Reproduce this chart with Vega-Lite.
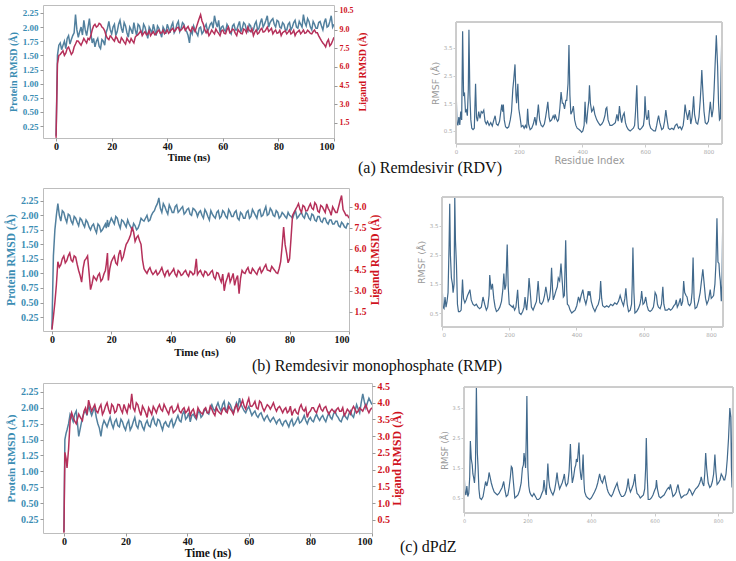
{
"$schema":"https://vega.github.io/schema/vega-lite/v6.json",
"padding":{"left":5,"top":4,"right":0,"bottom":0},
"background":"white",
"config":{"view":{"stroke":"#bdbdbd","strokeWidth":1},"axis":{"grid":false}},
"datasets":{
"A":[{"t":0,"p":0.08,"l":0.3},{"t":0.5,"p":1.5,"l":6.25},{"t":1,"p":1.68,"l":6.93},{"t":2,"p":1.6,"l":7.16},{"t":3,"p":1.75,"l":6.93},{"t":4,"p":1.8,"l":7.48},{"t":5,"p":1.7,"l":7.3},{"t":6,"p":1.85,"l":7.16},{"t":7,"p":2.22,"l":7.84},{"t":8,"p":1.82,"l":8.07},{"t":9,"p":2.0,"l":7.75},{"t":10,"p":2.12,"l":8.29},{"t":11,"p":1.85,"l":7.93},{"t":12,"p":2.15,"l":8.2},{"t":13,"p":1.72,"l":8.97},{"t":14,"p":1.65,"l":9.43},{"t":15,"p":1.8,"l":9.29},{"t":16,"p":1.62,"l":9.43},{"t":17,"p":1.75,"l":9.11},{"t":18,"p":1.9,"l":8.52},{"t":19,"p":2.1,"l":8.2},{"t":20,"p":1.88,"l":8.38},{"t":21,"p":2.05,"l":8.07},{"t":22,"p":1.92,"l":8.29},{"t":23,"p":2.12,"l":7.93},{"t":24,"p":1.9,"l":8.2},{"t":25,"p":2.02,"l":7.84},{"t":26,"p":1.82,"l":8.11},{"t":27,"p":1.95,"l":8.29},{"t":28,"p":2.08,"l":7.93},{"t":29,"p":1.85,"l":8.52},{"t":30,"p":2.02,"l":8.75},{"t":31,"p":1.88,"l":8.52},{"t":32,"p":2.0,"l":8.84},{"t":33,"p":1.8,"l":8.66},{"t":34,"p":1.95,"l":8.52},{"t":35,"p":2.05,"l":8.84},{"t":36,"p":1.85,"l":8.66},{"t":37,"p":1.98,"l":8.97},{"t":38,"p":1.82,"l":8.75},{"t":39,"p":1.95,"l":8.66},{"t":40,"p":2.05,"l":8.97},{"t":41,"p":1.9,"l":8.84},{"t":42,"p":2.08,"l":9.11},{"t":43,"p":1.95,"l":8.97},{"t":44,"p":2.1,"l":9.2},{"t":45,"p":1.98,"l":8.97},{"t":46,"p":2.05,"l":9.29},{"t":47,"p":1.92,"l":9.11},{"t":48,"p":1.72,"l":8.97},{"t":49,"p":1.88,"l":9.2},{"t":50,"p":1.95,"l":8.84},{"t":51,"p":1.85,"l":9.56},{"t":52,"p":2.0,"l":10.2},{"t":53,"p":1.92,"l":9.43},{"t":54,"p":2.05,"l":8.75},{"t":55,"p":1.98,"l":8.52},{"t":56,"p":2.08,"l":8.97},{"t":57,"p":2.2,"l":8.66},{"t":58,"p":2.0,"l":8.84},{"t":59,"p":1.9,"l":8.52},{"t":60,"p":2.02,"l":8.97},{"t":61,"p":1.92,"l":8.66},{"t":62,"p":2.0,"l":9.2},{"t":63,"p":1.88,"l":8.84},{"t":64,"p":2.05,"l":8.97},{"t":65,"p":1.95,"l":8.52},{"t":66,"p":2.1,"l":8.84},{"t":67,"p":1.98,"l":8.66},{"t":68,"p":2.05,"l":8.97},{"t":69,"p":1.92,"l":9.2},{"t":70,"p":2.02,"l":8.84},{"t":71,"p":1.95,"l":8.52},{"t":72,"p":2.1,"l":8.97},{"t":73,"p":1.98,"l":8.75},{"t":74,"p":2.15,"l":9.11},{"t":75,"p":2.05,"l":8.84},{"t":76,"p":2.2,"l":9.2},{"t":77,"p":2.08,"l":8.97},{"t":78,"p":2.15,"l":8.66},{"t":79,"p":2.0,"l":8.97},{"t":80,"p":2.1,"l":8.75},{"t":81,"p":1.98,"l":8.52},{"t":82,"p":2.05,"l":8.84},{"t":83,"p":1.95,"l":8.66},{"t":84,"p":2.08,"l":8.97},{"t":85,"p":2.0,"l":8.75},{"t":86,"p":2.12,"l":8.52},{"t":87,"p":1.98,"l":8.84},{"t":88,"p":2.05,"l":8.66},{"t":89,"p":2.22,"l":8.97},{"t":90,"p":2.02,"l":8.75},{"t":91,"p":2.1,"l":8.84},{"t":92,"p":1.95,"l":8.66},{"t":93,"p":2.05,"l":8.97},{"t":94,"p":1.98,"l":8.75},{"t":95,"p":2.1,"l":8.29},{"t":96,"p":1.95,"l":7.93},{"t":97,"p":2.15,"l":7.61},{"t":98,"p":2.02,"l":8.2},{"t":99,"p":2.2,"l":7.84},{"t":100,"p":2.05,"l":8.38},
{"t":1.5,"p":1.72,"l":7.0},{"t":2.5,"p":1.68,"l":7.3},{"t":3.5,"p":1.62,"l":7.1},{"t":4.5,"p":1.85,"l":7.6},{"t":5.5,"p":1.78,"l":7.0},{"t":6.5,"p":1.9,"l":7.6},{"t":7.5,"p":1.95,"l":8.1},{"t":8.5,"p":1.92,"l":7.9},{"t":9.5,"p":1.86,"l":8.0},{"t":10.5,"p":1.95,"l":8.1},{"t":11.5,"p":2.0,"l":8.3},{"t":12.5,"p":1.9,"l":8.5},{"t":13.5,"p":1.8,"l":9.3},{"t":14.5,"p":1.75,"l":9.2},{"t":15.5,"p":1.66,"l":9.5},{"t":16.5,"p":1.78,"l":9.2},{"t":17.5,"p":1.68,"l":8.9},{"t":18.5,"p":1.98,"l":8.3},{"t":19.5,"p":1.95,"l":8.5},{"t":20.5,"p":2.0,"l":8.2},{"t":21.5,"p":1.85,"l":8.45},{"t":22.5,"p":2.05,"l":8.0},{"t":23.5,"p":1.98,"l":8.35},{"t":24.5,"p":2.08,"l":8.0},{"t":25.5,"p":1.9,"l":8.3},{"t":26.5,"p":2.0,"l":7.95},{"t":27.5,"p":1.88,"l":8.1},{"t":28.5,"p":1.95,"l":8.4},{"t":29.5,"p":2.05,"l":8.6},{"t":30.5,"p":1.92,"l":8.9},{"t":31.5,"p":2.05,"l":8.7},{"t":32.5,"p":1.9,"l":8.6},{"t":33.5,"p":2.0,"l":8.9},{"t":34.5,"p":1.88,"l":8.7},{"t":35.5,"p":1.95,"l":8.6},{"t":36.5,"p":2.02,"l":8.85},{"t":37.5,"p":1.9,"l":8.7},{"t":38.5,"p":2.0,"l":8.95},{"t":39.5,"p":1.88,"l":8.8},{"t":40.5,"p":1.98,"l":8.7},{"t":41.5,"p":2.02,"l":9.0},{"t":42.5,"p":1.9,"l":8.85},{"t":43.5,"p":2.05,"l":9.15},{"t":44.5,"p":1.92,"l":8.9},{"t":45.5,"p":2.08,"l":9.1},{"t":46.5,"p":1.95,"l":8.95},{"t":47.5,"p":1.85,"l":9.25},{"t":48.5,"p":1.95,"l":8.85},{"t":49.5,"p":2.02,"l":9.05},{"t":50.5,"p":1.9,"l":9.2},{"t":51.5,"p":1.98,"l":9.9},{"t":52.5,"p":1.88,"l":9.7},{"t":53.5,"p":2.0,"l":9.0},{"t":54.5,"p":1.92,"l":8.95},{"t":55.5,"p":2.05,"l":8.7},{"t":56.5,"p":1.98,"l":8.8},{"t":57.5,"p":2.08,"l":9.05},{"t":58.5,"p":2.12,"l":8.7},{"t":59.5,"p":2.0,"l":8.9},{"t":60.5,"p":1.95,"l":8.7},{"t":61.5,"p":2.05,"l":9.0},{"t":62.5,"p":1.92,"l":8.75},{"t":63.5,"p":2.02,"l":9.05},{"t":64.5,"p":1.95,"l":8.7},{"t":65.5,"p":2.03,"l":9.0},{"t":66.5,"p":1.92,"l":8.7},{"t":67.5,"p":2.08,"l":9.05},{"t":68.5,"p":1.95,"l":8.75},{"t":69.5,"p":2.05,"l":8.95},{"t":70.5,"p":1.92,"l":9.05},{"t":71.5,"p":2.05,"l":8.8},{"t":72.5,"p":1.95,"l":8.65},{"t":73.5,"p":2.08,"l":9.0},{"t":74.5,"p":2.0,"l":8.8},{"t":75.5,"p":2.12,"l":9.0},{"t":76.5,"p":2.0,"l":8.85},{"t":77.5,"p":2.12,"l":9.1},{"t":78.5,"p":2.05,"l":8.85},{"t":79.5,"p":2.12,"l":8.7},{"t":80.5,"p":2.0,"l":8.95},{"t":81.5,"p":2.08,"l":8.75},{"t":82.5,"p":1.95,"l":8.9},{"t":83.5,"p":2.05,"l":8.8},{"t":84.5,"p":1.95,"l":8.65},{"t":85.5,"p":2.08,"l":8.95},{"t":86.5,"p":2.0,"l":8.75},{"t":87.5,"p":2.1,"l":8.95},{"t":88.5,"p":2.0,"l":8.8},{"t":89.5,"p":2.08,"l":8.7},{"t":90.5,"p":2.15,"l":8.95},{"t":91.5,"p":2.0,"l":8.7},{"t":92.5,"p":2.1,"l":8.85},{"t":93.5,"p":1.98,"l":8.75},{"t":94.5,"p":2.08,"l":8.5},{"t":95.5,"p":2.02,"l":8.1},{"t":96.5,"p":2.08,"l":7.8},{"t":97.5,"p":2.0,"l":8.0},{"t":98.5,"p":2.1,"l":7.7},{"t":99.5,"p":2.0,"l":8.1}],
"B":[{"t":0,"p":0.05,"l":0.23},{"t":0.5,"p":1.3,"l":1.15},{"t":1,"p":1.75,"l":2.18},{"t":1.5,"p":2.0,"l":3.42},{"t":2,"p":2.2,"l":5.08},{"t":3,"p":1.9,"l":4.87},{"t":4,"p":2.05,"l":5.49},{"t":5,"p":1.88,"l":5.16},{"t":6,"p":2.0,"l":5.7},{"t":7,"p":1.85,"l":5.08},{"t":8,"p":1.95,"l":5.41},{"t":9,"p":1.82,"l":4.46},{"t":10,"p":1.92,"l":3.63},{"t":11,"p":1.8,"l":5.16},{"t":12,"p":1.88,"l":5.49},{"t":13,"p":1.75,"l":3.09},{"t":14,"p":1.85,"l":4.04},{"t":15,"p":1.7,"l":3.75},{"t":16,"p":1.82,"l":4.25},{"t":17,"p":1.75,"l":3.84},{"t":18,"p":1.85,"l":4.46},{"t":18.7,"p":1.92,"l":5.7},{"t":19,"p":1.8,"l":3.75},{"t":20,"p":1.95,"l":5.08},{"t":21,"p":1.85,"l":5.49},{"t":22,"p":1.95,"l":4.87},{"t":23,"p":1.78,"l":5.91},{"t":24,"p":1.9,"l":5.41},{"t":25,"p":1.8,"l":6.32},{"t":26,"p":1.85,"l":6.73},{"t":27,"p":1.75,"l":7.56},{"t":28,"p":1.82,"l":6.53},{"t":29,"p":1.78,"l":6.94},{"t":30,"p":1.95,"l":6.32},{"t":31,"p":1.9,"l":4.58},{"t":32,"p":2.0,"l":4.25},{"t":33,"p":1.92,"l":4.66},{"t":34,"p":2.05,"l":4.17},{"t":35,"p":2.15,"l":4.46},{"t":36,"p":2.3,"l":4.25},{"t":37,"p":2.05,"l":4.66},{"t":38,"p":2.15,"l":4.04},{"t":39,"p":2.02,"l":4.46},{"t":40,"p":2.12,"l":4.25},{"t":41,"p":2.05,"l":4.58},{"t":42,"p":2.18,"l":4.04},{"t":43,"p":2.08,"l":4.33},{"t":44,"p":2.15,"l":4.17},{"t":45,"p":2.05,"l":4.46},{"t":46,"p":2.12,"l":4.04},{"t":47,"p":2.0,"l":4.33},{"t":48,"p":2.1,"l":4.25},{"t":48.6,"p":2.05,"l":5.29},{"t":49,"p":1.98,"l":4.17},{"t":50,"p":2.08,"l":4.46},{"t":51,"p":1.95,"l":4.04},{"t":52,"p":2.05,"l":4.33},{"t":53,"p":1.92,"l":4.17},{"t":54,"p":2.02,"l":4.46},{"t":55,"p":1.95,"l":3.84},{"t":56,"p":2.08,"l":4.25},{"t":57,"p":1.98,"l":3.63},{"t":58,"p":2.05,"l":3.01},{"t":59,"p":1.95,"l":3.92},{"t":60,"p":2.05,"l":3.63},{"t":61,"p":1.98,"l":4.25},{"t":62,"p":2.08,"l":3.84},{"t":63,"p":1.92,"l":2.8},{"t":64,"p":2.02,"l":4.46},{"t":65,"p":1.95,"l":4.25},{"t":66,"p":2.08,"l":4.66},{"t":67,"p":1.98,"l":4.25},{"t":68,"p":2.05,"l":4.46},{"t":69,"p":1.95,"l":4.17},{"t":70,"p":2.1,"l":4.66},{"t":71,"p":2.0,"l":4.46},{"t":72,"p":2.15,"l":4.87},{"t":73,"p":2.02,"l":4.46},{"t":74,"p":2.08,"l":4.75},{"t":75,"p":1.98,"l":4.46},{"t":76,"p":2.05,"l":4.25},{"t":77,"p":1.98,"l":5.08},{"t":78,"p":2.02,"l":7.56},{"t":79,"p":1.95,"l":5.7},{"t":80,"p":2.0,"l":5.29},{"t":81,"p":1.95,"l":8.39},{"t":82,"p":2.08,"l":8.8},{"t":83,"p":1.98,"l":9.22},{"t":84,"p":2.05,"l":8.6},{"t":85,"p":1.95,"l":9.01},{"t":86,"p":2.02,"l":8.72},{"t":87,"p":1.92,"l":9.22},{"t":88,"p":2.0,"l":8.8},{"t":89,"p":1.9,"l":9.14},{"t":90,"p":1.98,"l":8.6},{"t":91,"p":1.88,"l":9.01},{"t":92,"p":1.95,"l":8.6},{"t":93,"p":1.85,"l":8.89},{"t":94,"p":1.92,"l":8.39},{"t":95,"p":1.85,"l":8.8},{"t":96,"p":1.9,"l":8.6},{"t":97,"p":1.8,"l":9.43},{"t":98,"p":1.85,"l":8.8},{"t":99,"p":1.78,"l":8.39},{"t":100,"p":1.85,"l":8.18},
{"t":2.5,"p":2.0,"l":4.7},{"t":3.5,"p":2.08,"l":5.3},{"t":4.5,"p":1.95,"l":5.0},{"t":5.5,"p":2.02,"l":5.5},{"t":6.5,"p":1.9,"l":5.2},{"t":7.5,"p":1.98,"l":5.5},{"t":8.5,"p":1.88,"l":4.9},{"t":9.5,"p":1.95,"l":4.1},{"t":10.5,"p":1.85,"l":4.6},{"t":11.5,"p":1.92,"l":5.3},{"t":12.5,"p":1.8,"l":4.3},{"t":13.5,"p":1.82,"l":3.5},{"t":14.5,"p":1.76,"l":3.9},{"t":15.5,"p":1.85,"l":4.1},{"t":16.5,"p":1.72,"l":3.7},{"t":17.5,"p":1.8,"l":4.2},{"t":18.3,"p":1.78,"l":4.9},{"t":19.5,"p":1.88,"l":4.6},{"t":20.5,"p":1.9,"l":5.3},{"t":21.5,"p":1.98,"l":5.0},{"t":22.5,"p":1.85,"l":5.6},{"t":23.5,"p":1.92,"l":5.2},{"t":24.5,"p":1.85,"l":5.9},{"t":25.5,"p":1.92,"l":6.5},{"t":26.5,"p":1.8,"l":7.0},{"t":27.5,"p":1.86,"l":7.2},{"t":28.5,"p":1.75,"l":6.8},{"t":29.5,"p":1.85,"l":6.6},{"t":30.5,"p":1.92,"l":5.2},{"t":31.5,"p":1.95,"l":4.4},{"t":32.5,"p":1.9,"l":4.5},{"t":33.5,"p":2.0,"l":4.35},{"t":34.5,"p":2.08,"l":4.3},{"t":35.5,"p":2.2,"l":4.15},{"t":36.5,"p":2.12,"l":4.45},{"t":37.5,"p":2.2,"l":4.3},{"t":38.5,"p":2.08,"l":4.35},{"t":39.5,"p":2.18,"l":4.1},{"t":40.5,"p":2.05,"l":4.4},{"t":41.5,"p":2.15,"l":4.2},{"t":42.5,"p":2.05,"l":4.45},{"t":43.5,"p":2.12,"l":4.1},{"t":44.5,"p":2.02,"l":4.35},{"t":45.5,"p":2.1,"l":4.2},{"t":46.5,"p":2.02,"l":4.4},{"t":47.5,"p":2.12,"l":4.15},{"t":49.5,"p":2.05,"l":4.35},{"t":50.5,"p":2.0,"l":4.2},{"t":51.5,"p":2.1,"l":4.4},{"t":52.5,"p":1.98,"l":4.1},{"t":53.5,"p":2.08,"l":4.35},{"t":54.5,"p":1.98,"l":4.0},{"t":55.5,"p":2.05,"l":4.3},{"t":56.5,"p":1.95,"l":3.9},{"t":57.5,"p":2.08,"l":4.2},{"t":58.5,"p":1.98,"l":3.6},{"t":59.5,"p":2.1,"l":4.3},{"t":60.5,"p":1.98,"l":3.9},{"t":61.5,"p":2.05,"l":3.4},{"t":62.5,"p":1.95,"l":4.1},{"t":63.5,"p":2.05,"l":3.9},{"t":64.5,"p":1.95,"l":4.3},{"t":65.5,"p":2.05,"l":4.5},{"t":66.5,"p":1.95,"l":4.3},{"t":67.5,"p":2.1,"l":4.6},{"t":68.5,"p":2.0,"l":4.3},{"t":69.5,"p":2.08,"l":4.5},{"t":70.5,"p":1.98,"l":4.3},{"t":71.5,"p":2.08,"l":4.7},{"t":72.5,"p":2.0,"l":4.5},{"t":73.5,"p":2.12,"l":4.4},{"t":74.5,"p":2.0,"l":4.6},{"t":75.5,"p":2.08,"l":4.3},{"t":76.5,"p":1.95,"l":4.6},{"t":77.5,"p":2.05,"l":6.2},{"t":78.5,"p":1.98,"l":6.3},{"t":79.5,"p":2.05,"l":5.0},{"t":80.5,"p":1.98,"l":6.8},{"t":81.5,"p":2.02,"l":8.6},{"t":82.5,"p":1.95,"l":9.0},{"t":83.5,"p":2.02,"l":8.8},{"t":84.5,"p":1.98,"l":9.1},{"t":85.5,"p":2.05,"l":8.7},{"t":86.5,"p":1.95,"l":9.0},{"t":87.5,"p":2.02,"l":8.9},{"t":88.5,"p":1.92,"l":9.3},{"t":89.5,"p":1.98,"l":8.7},{"t":90.5,"p":1.9,"l":9.1},{"t":91.5,"p":1.95,"l":8.8},{"t":92.5,"p":1.88,"l":9.2},{"t":93.5,"p":1.92,"l":8.7},{"t":94.5,"p":1.85,"l":9.0},{"t":95.5,"p":1.9,"l":8.6},{"t":96.5,"p":1.82,"l":9.0},{"t":97.5,"p":1.88,"l":9.8},{"t":98.5,"p":1.8,"l":8.6},{"t":99.5,"p":1.86,"l":8.4}],
"C":[{"t":0,"p":0.05,"l":0.12},{"t":0.3,"p":1.5,"l":2.52},{"t":0.7,"p":1.6,"l":2.33},{"t":1,"p":1.65,"l":2.05},{"t":1.5,"p":1.75,"l":2.62},{"t":2,"p":1.9,"l":3.47},{"t":3,"p":1.78,"l":3.56},{"t":4,"p":1.95,"l":3.37},{"t":4.8,"p":1.55,"l":3.66},{"t":6,"p":1.85,"l":3.47},{"t":7,"p":1.95,"l":3.85},{"t":8,"p":2.05,"l":4.08},{"t":9,"p":1.88,"l":3.75},{"t":10,"p":2.0,"l":3.94},{"t":11,"p":1.75,"l":3.7},{"t":12,"p":1.55,"l":3.94},{"t":13,"p":1.8,"l":3.75},{"t":14,"p":1.7,"l":4.0},{"t":15,"p":1.85,"l":3.66},{"t":16,"p":1.68,"l":3.89},{"t":17,"p":1.82,"l":3.75},{"t":18,"p":1.7,"l":3.94},{"t":19,"p":1.78,"l":3.7},{"t":20,"p":1.65,"l":3.81},{"t":21,"p":1.8,"l":3.94},{"t":22,"p":1.7,"l":4.27},{"t":23,"p":1.85,"l":3.75},{"t":24,"p":1.68,"l":3.94},{"t":25,"p":1.78,"l":3.62},{"t":26,"p":1.65,"l":3.81},{"t":27,"p":1.8,"l":3.56},{"t":28,"p":1.7,"l":3.75},{"t":29,"p":1.85,"l":3.89},{"t":30,"p":1.72,"l":3.7},{"t":31,"p":1.8,"l":3.94},{"t":32,"p":1.65,"l":3.75},{"t":33,"p":1.78,"l":3.85},{"t":34,"p":1.7,"l":3.66},{"t":35,"p":1.82,"l":3.89},{"t":36,"p":1.75,"l":3.75},{"t":37,"p":1.88,"l":3.94},{"t":38,"p":1.78,"l":3.7},{"t":39,"p":1.95,"l":3.85},{"t":40,"p":1.85,"l":3.75},{"t":41,"p":1.78,"l":3.62},{"t":42,"p":1.9,"l":3.81},{"t":43,"p":1.82,"l":3.56},{"t":44,"p":1.95,"l":3.75},{"t":45,"p":1.88,"l":3.66},{"t":46,"p":1.98,"l":3.85},{"t":47,"p":1.9,"l":3.7},{"t":48,"p":2.05,"l":3.81},{"t":49,"p":1.95,"l":3.62},{"t":50,"p":2.08,"l":3.75},{"t":51,"p":1.95,"l":3.66},{"t":52,"p":2.1,"l":3.85},{"t":53,"p":1.98,"l":3.7},{"t":54,"p":2.05,"l":3.81},{"t":55,"p":1.92,"l":3.66},{"t":56,"p":2.08,"l":3.94},{"t":57,"p":2.15,"l":3.85},{"t":58,"p":2.0,"l":4.08},{"t":59,"p":1.92,"l":3.81},{"t":60,"p":2.02,"l":4.13},{"t":61,"p":1.88,"l":3.89},{"t":62,"p":1.95,"l":4.04},{"t":63,"p":1.85,"l":3.81},{"t":64,"p":1.92,"l":4.0},{"t":65,"p":1.8,"l":3.75},{"t":66,"p":1.88,"l":3.94},{"t":67,"p":1.78,"l":3.81},{"t":68,"p":1.85,"l":4.0},{"t":69,"p":1.75,"l":3.75},{"t":70,"p":1.82,"l":3.89},{"t":71,"p":1.72,"l":3.7},{"t":72,"p":1.8,"l":3.85},{"t":73,"p":1.7,"l":3.75},{"t":74,"p":1.82,"l":3.62},{"t":75,"p":1.75,"l":3.81},{"t":76,"p":1.85,"l":3.66},{"t":77,"p":1.78,"l":3.94},{"t":78,"p":1.88,"l":3.75},{"t":79,"p":1.75,"l":3.56},{"t":80,"p":1.85,"l":3.75},{"t":81,"p":1.78,"l":3.85},{"t":82,"p":1.9,"l":3.7},{"t":83,"p":1.8,"l":3.94},{"t":84,"p":1.88,"l":3.75},{"t":85,"p":1.78,"l":3.89},{"t":86,"p":1.92,"l":3.66},{"t":87,"p":1.82,"l":3.81},{"t":88,"p":1.95,"l":3.7},{"t":89,"p":1.85,"l":3.85},{"t":90,"p":1.78,"l":3.75},{"t":91,"p":1.9,"l":3.62},{"t":92,"p":1.82,"l":3.81},{"t":93,"p":1.95,"l":3.66},{"t":94,"p":1.85,"l":3.89},{"t":95,"p":2.05,"l":3.7},{"t":96,"p":1.92,"l":3.85},{"t":97,"p":2.22,"l":3.75},{"t":98,"p":2.0,"l":3.94},{"t":99,"p":2.15,"l":3.7},{"t":100,"p":2.05,"l":3.85},
{"t":2.5,"p":1.85,"l":3.7},{"t":3.5,"p":1.9,"l":3.45},{"t":5.4,"p":1.7,"l":3.55},{"t":6.5,"p":1.92,"l":3.75},{"t":7.5,"p":1.88,"l":3.65},{"t":8.5,"p":1.95,"l":3.9},{"t":9.5,"p":1.95,"l":3.85},{"t":10.5,"p":1.85,"l":3.75},{"t":11.5,"p":1.68,"l":3.85},{"t":12.5,"p":1.72,"l":3.65},{"t":13.5,"p":1.75,"l":3.9},{"t":14.5,"p":1.78,"l":3.8},{"t":15.5,"p":1.75,"l":3.95},{"t":16.5,"p":1.78,"l":3.7},{"t":17.5,"p":1.72,"l":3.95},{"t":18.5,"p":1.82,"l":3.8},{"t":19.5,"p":1.7,"l":3.95},{"t":20.5,"p":1.75,"l":3.7},{"t":21.5,"p":1.65,"l":3.85},{"t":22.5,"p":1.78,"l":3.85},{"t":23.5,"p":1.72,"l":4.0},{"t":24.5,"p":1.8,"l":3.75},{"t":25.5,"p":1.7,"l":3.9},{"t":26.5,"p":1.75,"l":3.7},{"t":27.5,"p":1.72,"l":3.85},{"t":28.5,"p":1.8,"l":3.65},{"t":29.5,"p":1.75,"l":3.8},{"t":30.5,"p":1.82,"l":3.85},{"t":31.5,"p":1.72,"l":3.8},{"t":32.5,"p":1.75,"l":3.95},{"t":33.5,"p":1.72,"l":3.75},{"t":34.5,"p":1.78,"l":3.85},{"t":35.5,"p":1.7,"l":3.7},{"t":36.5,"p":1.82,"l":3.8},{"t":37.5,"p":1.8,"l":3.75},{"t":38.5,"p":1.9,"l":3.8},{"t":39.5,"p":1.82,"l":3.7},{"t":40.5,"p":1.92,"l":3.85},{"t":41.5,"p":1.88,"l":3.75},{"t":42.5,"p":1.85,"l":3.65},{"t":43.5,"p":1.92,"l":3.85},{"t":44.5,"p":1.85,"l":3.7},{"t":45.5,"p":1.95,"l":3.8},{"t":46.5,"p":1.92,"l":3.7},{"t":47.5,"p":2.0,"l":3.9},{"t":48.5,"p":1.98,"l":3.7},{"t":49.5,"p":2.02,"l":3.85},{"t":50.5,"p":2.0,"l":3.7},{"t":51.5,"p":2.05,"l":3.8},{"t":52.5,"p":1.95,"l":3.75},{"t":53.5,"p":2.08,"l":3.9},{"t":54.5,"p":1.98,"l":3.75},{"t":55.5,"p":2.0,"l":3.85},{"t":56.5,"p":2.02,"l":3.75},{"t":57.5,"p":2.05,"l":3.95},{"t":58.5,"p":1.95,"l":3.9},{"t":59.5,"p":1.98,"l":4.0},{"t":60.5,"p":1.95,"l":3.9},{"t":61.5,"p":1.92,"l":3.95},{"t":62.5,"p":1.88,"l":3.85},{"t":63.5,"p":1.9,"l":4.05},{"t":64.5,"p":1.85,"l":3.85},{"t":65.5,"p":1.85,"l":3.85},{"t":66.5,"p":1.82,"l":3.9},{"t":67.5,"p":1.82,"l":3.9},{"t":68.5,"p":1.8,"l":3.85},{"t":69.5,"p":1.8,"l":3.85},{"t":70.5,"p":1.76,"l":3.8},{"t":71.5,"p":1.78,"l":3.8},{"t":72.5,"p":1.75,"l":3.7},{"t":73.5,"p":1.78,"l":3.9},{"t":74.5,"p":1.72,"l":3.75},{"t":75.5,"p":1.8,"l":3.7},{"t":76.5,"p":1.76,"l":3.85},{"t":77.5,"p":1.82,"l":3.8},{"t":78.5,"p":1.8,"l":3.85},{"t":79.5,"p":1.82,"l":3.7},{"t":80.5,"p":1.8,"l":3.85},{"t":81.5,"p":1.85,"l":3.75},{"t":82.5,"p":1.84,"l":3.85},{"t":83.5,"p":1.85,"l":3.8},{"t":84.5,"p":1.82,"l":3.85},{"t":85.5,"p":1.86,"l":3.75},{"t":86.5,"p":1.85,"l":3.75},{"t":87.5,"p":1.9,"l":3.75},{"t":88.5,"p":1.88,"l":3.8},{"t":89.5,"p":1.8,"l":3.75},{"t":90.5,"p":1.85,"l":3.85},{"t":91.5,"p":1.85,"l":3.7},{"t":92.5,"p":1.9,"l":3.75},{"t":93.5,"p":1.88,"l":3.8},{"t":94.5,"p":1.95,"l":3.8},{"t":95.5,"p":1.98,"l":3.75},{"t":96.5,"p":2.08,"l":3.8},{"t":97.5,"p":2.1,"l":3.85},{"t":98.5,"p":2.08,"l":3.8},{"t":99.5,"p":2.1,"l":3.8}],
"RA":[{"r":0,"f":2.18},{"r":3,"f":0.8},{"r":6,"f":0.7},{"r":9,"f":1.0},{"r":12,"f":0.72},{"r":15,"f":1.2},{"r":18,"f":0.9},{"r":21,"f":4.1},{"r":24,"f":1.8},{"r":27,"f":1.85},{"r":30,"f":1.2},{"r":33,"f":1.25},{"r":36,"f":1.05},{"r":39,"f":2.0},{"r":41,"f":4.15},{"r":44,"f":1.8},{"r":47,"f":0.9},{"r":50,"f":0.6},{"r":54,"f":0.55},{"r":58,"f":0.6},{"r":62,"f":2.2},{"r":65,"f":1.0},{"r":68,"f":0.85},{"r":72,"f":1.2},{"r":76,"f":0.95},{"r":80,"f":1.2},{"r":84,"f":1.15},{"r":88,"f":1.25},{"r":92,"f":0.85},{"r":96,"f":0.75},{"r":100,"f":0.85},{"r":105,"f":0.7},{"r":110,"f":0.8},{"r":115,"f":0.68},{"r":120,"f":0.9},{"r":124,"f":1.05},{"r":128,"f":0.75},{"r":133,"f":0.7},{"r":138,"f":0.85},{"r":142,"f":1.2},{"r":145,"f":1.45},{"r":148,"f":1.2},{"r":150,"f":1.45},{"r":153,"f":0.9},{"r":157,"f":0.65},{"r":162,"f":0.6},{"r":167,"f":0.65},{"r":172,"f":0.9},{"r":176,"f":1.2},{"r":180,"f":2.0},{"r":183,"f":2.35},{"r":187,"f":2.9},{"r":190,"f":1.8},{"r":192,"f":1.5},{"r":196,"f":2.2},{"r":199,"f":1.3},{"r":203,"f":1.0},{"r":207,"f":0.65},{"r":212,"f":0.7},{"r":216,"f":0.6},{"r":220,"f":0.7},{"r":224,"f":0.6},{"r":227,"f":1.3},{"r":230,"f":0.75},{"r":235,"f":0.55},{"r":240,"f":0.6},{"r":245,"f":0.75},{"r":250,"f":1.0},{"r":254,"f":0.7},{"r":258,"f":1.1},{"r":261,"f":1.45},{"r":265,"f":0.9},{"r":270,"f":0.7},{"r":275,"f":0.65},{"r":280,"f":0.75},{"r":284,"f":1.0},{"r":288,"f":1.3},{"r":291,"f":1.55},{"r":295,"f":1.0},{"r":298,"f":0.85},{"r":303,"f":0.9},{"r":308,"f":1.05},{"r":312,"f":0.95},{"r":314,"f":1.1},{"r":318,"f":0.95},{"r":322,"f":0.85},{"r":325,"f":0.9},{"r":329,"f":1.3},{"r":333,"f":1.9},{"r":337,"f":1.5},{"r":340,"f":1.5},{"r":344,"f":1.3},{"r":348,"f":1.6},{"r":351,"f":1.6},{"r":355,"f":2.2},{"r":358,"f":3.6},{"r":361,"f":1.8},{"r":364,"f":1.1},{"r":368,"f":1.2},{"r":372,"f":1.4},{"r":376,"f":0.9},{"r":380,"f":0.7},{"r":384,"f":0.6},{"r":390,"f":0.55},{"r":395,"f":0.5},{"r":398,"f":0.45},{"r":402,"f":0.5},{"r":406,"f":0.7},{"r":409,"f":1.55},{"r":412,"f":0.85},{"r":414,"f":0.8},{"r":418,"f":1.3},{"r":421,"f":1.6},{"r":423,"f":2.15},{"r":426,"f":1.5},{"r":430,"f":1.2},{"r":433,"f":1.25},{"r":436,"f":1.35},{"r":440,"f":1.1},{"r":446,"f":0.9},{"r":451,"f":0.8},{"r":457,"f":0.7},{"r":462,"f":0.75},{"r":467,"f":0.85},{"r":472,"f":1.05},{"r":475,"f":1.3},{"r":478,"f":1.35},{"r":482,"f":0.9},{"r":488,"f":0.7},{"r":494,"f":0.7},{"r":500,"f":0.75},{"r":505,"f":0.8},{"r":510,"f":1.1},{"r":514,"f":0.85},{"r":518,"f":1.4},{"r":522,"f":1.0},{"r":525,"f":0.8},{"r":529,"f":1.05},{"r":533,"f":1.15},{"r":537,"f":0.8},{"r":541,"f":0.65},{"r":546,"f":0.55},{"r":552,"f":0.5},{"r":557,"f":0.55},{"r":562,"f":0.6},{"r":566,"f":0.7},{"r":569,"f":1.2},{"r":573,"f":2.15},{"r":576,"f":1.0},{"r":578,"f":0.6},{"r":583,"f":0.55},{"r":588,"f":0.6},{"r":594,"f":0.7},{"r":597,"f":1.0},{"r":599,"f":1.75},{"r":602,"f":1.1},{"r":605,"f":0.9},{"r":608,"f":1.0},{"r":610,"f":1.25},{"r":613,"f":0.75},{"r":617,"f":0.6},{"r":622,"f":0.55},{"r":627,"f":0.5},{"r":632,"f":0.5},{"r":636,"f":0.7},{"r":639,"f":0.9},{"r":642,"f":1.05},{"r":646,"f":0.8},{"r":652,"f":0.55},{"r":657,"f":0.6},{"r":661,"f":0.85},{"r":665,"f":1.25},{"r":669,"f":0.9},{"r":673,"f":0.6},{"r":678,"f":0.55},{"r":684,"f":0.6},{"r":690,"f":0.55},{"r":695,"f":0.7},{"r":700,"f":0.75},{"r":705,"f":0.6},{"r":710,"f":0.65},{"r":715,"f":0.55},{"r":720,"f":0.7},{"r":723,"f":1.0},{"r":726,"f":1.45},{"r":729,"f":1.2},{"r":732,"f":1.05},{"r":734,"f":0.9},{"r":737,"f":1.1},{"r":740,"f":1.25},{"r":744,"f":0.75},{"r":748,"f":1.0},{"r":751,"f":1.4},{"r":753,"f":1.75},{"r":756,"f":1.1},{"r":761,"f":0.8},{"r":766,"f":0.75},{"r":770,"f":1.0},{"r":774,"f":1.6},{"r":777,"f":2.2},{"r":779,"f":2.7},{"r":782,"f":2.0},{"r":786,"f":1.2},{"r":790,"f":0.8},{"r":795,"f":0.75},{"r":800,"f":0.85},{"r":803,"f":1.2},{"r":806,"f":1.55},{"r":809,"f":1.2},{"r":811,"f":1.0},{"r":815,"f":1.3},{"r":818,"f":2.0},{"r":821,"f":2.85},{"r":825,"f":3.95},{"r":829,"f":2.85},{"r":832,"f":1.5},{"r":835,"f":0.9},{"r":838,"f":0.95},{"r":840,"f":2.5},{"r":843,"f":4.43}],
"RB":[{"r":0,"f":1.55},{"r":3,"f":0.7},{"r":6,"f":0.65},{"r":9,"f":1.05},{"r":12,"f":0.7},{"r":15,"f":0.9},{"r":18,"f":1.2},{"r":21,"f":2.8},{"r":23,"f":4.25},{"r":25,"f":2.5},{"r":28,"f":1.7},{"r":31,"f":1.5},{"r":33,"f":1.2},{"r":36,"f":1.5},{"r":38,"f":4.48},{"r":40,"f":3.0},{"r":43,"f":2.15},{"r":46,"f":0.8},{"r":49,"f":0.55},{"r":53,"f":0.55},{"r":57,"f":0.6},{"r":61,"f":1.65},{"r":64,"f":1.0},{"r":68,"f":0.85},{"r":72,"f":0.95},{"r":76,"f":1.1},{"r":80,"f":1.2},{"r":83,"f":1.3},{"r":87,"f":0.95},{"r":92,"f":0.8},{"r":97,"f":0.75},{"r":102,"f":0.8},{"r":107,"f":0.7},{"r":112,"f":0.65},{"r":117,"f":0.7},{"r":122,"f":1.05},{"r":127,"f":0.8},{"r":132,"f":0.6},{"r":136,"f":0.7},{"r":140,"f":1.1},{"r":142,"f":1.8},{"r":146,"f":1.3},{"r":150,"f":1.5},{"r":154,"f":1.0},{"r":158,"f":0.7},{"r":162,"f":0.55},{"r":167,"f":0.6},{"r":172,"f":0.7},{"r":177,"f":0.9},{"r":181,"f":1.3},{"r":184,"f":1.85},{"r":187,"f":1.3},{"r":190,"f":1.45},{"r":194,"f":2.85},{"r":197,"f":1.4},{"r":200,"f":0.8},{"r":205,"f":0.75},{"r":210,"f":0.7},{"r":212,"f":0.75},{"r":216,"f":0.6},{"r":220,"f":0.7},{"r":225,"f":1.3},{"r":228,"f":0.7},{"r":230,"f":0.5},{"r":235,"f":0.45},{"r":240,"f":0.55},{"r":244,"f":0.7},{"r":247,"f":1.05},{"r":250,"f":0.7},{"r":252,"f":0.6},{"r":256,"f":1.1},{"r":259,"f":1.7},{"r":262,"f":1.3},{"r":266,"f":0.7},{"r":271,"f":0.6},{"r":276,"f":0.75},{"r":281,"f":0.9},{"r":284,"f":1.3},{"r":286,"f":1.6},{"r":289,"f":1.1},{"r":291,"f":0.85},{"r":296,"f":0.8},{"r":301,"f":0.9},{"r":305,"f":1.1},{"r":309,"f":1.4},{"r":313,"f":1.1},{"r":316,"f":0.9},{"r":320,"f":1.0},{"r":323,"f":1.3},{"r":326,"f":2.05},{"r":329,"f":1.3},{"r":331,"f":0.95},{"r":335,"f":1.1},{"r":340,"f":1.3},{"r":343,"f":1.4},{"r":346,"f":1.7},{"r":350,"f":1.6},{"r":354,"f":2.2},{"r":357,"f":1.7},{"r":361,"f":1.05},{"r":364,"f":1.1},{"r":368,"f":3.0},{"r":371,"f":1.3},{"r":373,"f":0.8},{"r":377,"f":0.75},{"r":381,"f":0.6},{"r":386,"f":0.5},{"r":391,"f":0.55},{"r":396,"f":0.6},{"r":401,"f":0.75},{"r":406,"f":1.05},{"r":410,"f":0.9},{"r":414,"f":1.1},{"r":419,"f":1.3},{"r":423,"f":1.0},{"r":428,"f":0.8},{"r":432,"f":1.0},{"r":435,"f":1.25},{"r":438,"f":1.1},{"r":440,"f":1.25},{"r":444,"f":0.9},{"r":449,"f":0.7},{"r":455,"f":0.55},{"r":460,"f":0.7},{"r":465,"f":0.8},{"r":469,"f":1.0},{"r":472,"f":1.6},{"r":475,"f":1.0},{"r":478,"f":0.75},{"r":484,"f":0.7},{"r":490,"f":0.75},{"r":496,"f":0.7},{"r":502,"f":0.8},{"r":508,"f":0.75},{"r":514,"f":0.85},{"r":520,"f":0.8},{"r":525,"f":0.9},{"r":530,"f":1.1},{"r":535,"f":0.9},{"r":540,"f":0.75},{"r":544,"f":1.0},{"r":547,"f":1.35},{"r":551,"f":0.8},{"r":555,"f":0.55},{"r":560,"f":0.6},{"r":564,"f":0.8},{"r":566,"f":1.5},{"r":568,"f":2.75},{"r":571,"f":1.2},{"r":574,"f":0.5},{"r":579,"f":0.55},{"r":584,"f":0.65},{"r":589,"f":0.8},{"r":592,"f":1.0},{"r":594,"f":1.25},{"r":598,"f":0.8},{"r":602,"f":0.85},{"r":606,"f":1.05},{"r":610,"f":0.75},{"r":614,"f":0.6},{"r":619,"f":0.55},{"r":624,"f":0.6},{"r":629,"f":0.7},{"r":632,"f":0.95},{"r":634,"f":1.2},{"r":638,"f":1.1},{"r":641,"f":0.8},{"r":644,"f":0.7},{"r":649,"f":0.65},{"r":653,"f":0.8},{"r":657,"f":1.4},{"r":660,"f":0.8},{"r":664,"f":0.6},{"r":670,"f":0.6},{"r":675,"f":0.65},{"r":680,"f":0.6},{"r":685,"f":0.65},{"r":690,"f":0.75},{"r":694,"f":0.8},{"r":697,"f":0.95},{"r":700,"f":0.7},{"r":704,"f":0.8},{"r":709,"f":1.0},{"r":712,"f":0.75},{"r":716,"f":0.9},{"r":719,"f":1.6},{"r":722,"f":1.2},{"r":726,"f":1.1},{"r":729,"f":1.05},{"r":733,"f":0.8},{"r":737,"f":0.75},{"r":741,"f":0.85},{"r":744,"f":1.2},{"r":747,"f":2.4},{"r":750,"f":1.0},{"r":753,"f":0.65},{"r":758,"f":0.7},{"r":763,"f":0.9},{"r":768,"f":1.2},{"r":772,"f":1.6},{"r":776,"f":2.0},{"r":780,"f":1.5},{"r":784,"f":1.0},{"r":788,"f":0.8},{"r":793,"f":0.95},{"r":798,"f":1.3},{"r":801,"f":1.0},{"r":805,"f":1.05},{"r":808,"f":1.1},{"r":812,"f":1.5},{"r":815,"f":2.2},{"r":818,"f":3.75},{"r":821,"f":2.25},{"r":824,"f":2.2},{"r":826,"f":1.8},{"r":828,"f":1.6},{"r":831,"f":0.9},{"r":833,"f":1.5},{"r":836,"f":4.48}],
"RC":[{"r":0,"f":1.45},{"r":3,"f":0.7},{"r":6,"f":0.6},{"r":9,"f":0.9},{"r":12,"f":0.55},{"r":15,"f":0.65},{"r":18,"f":1.2},{"r":20,"f":2.4},{"r":23,"f":1.8},{"r":26,"f":1.6},{"r":28,"f":1.3},{"r":30,"f":1.2},{"r":33,"f":1.0},{"r":36,"f":1.5},{"r":39,"f":4.2},{"r":42,"f":2.0},{"r":44,"f":1.6},{"r":47,"f":0.8},{"r":50,"f":0.5},{"r":55,"f":0.45},{"r":60,"f":0.55},{"r":64,"f":0.8},{"r":68,"f":1.05},{"r":72,"f":0.9},{"r":76,"f":1.1},{"r":79,"f":1.35},{"r":83,"f":1.15},{"r":86,"f":1.0},{"r":90,"f":0.85},{"r":95,"f":0.7},{"r":100,"f":0.65},{"r":105,"f":0.6},{"r":110,"f":0.65},{"r":115,"f":0.75},{"r":120,"f":0.85},{"r":125,"f":1.05},{"r":129,"f":0.75},{"r":133,"f":0.55},{"r":138,"f":0.6},{"r":142,"f":0.85},{"r":146,"f":1.2},{"r":149,"f":1.55},{"r":152,"f":1.5},{"r":155,"f":1.1},{"r":160,"f":0.5},{"r":165,"f":0.55},{"r":170,"f":0.6},{"r":175,"f":0.75},{"r":180,"f":1.0},{"r":184,"f":1.5},{"r":187,"f":1.6},{"r":189,"f":2.0},{"r":192,"f":1.7},{"r":194,"f":1.5},{"r":196,"f":2.5},{"r":198,"f":3.9},{"r":201,"f":1.5},{"r":204,"f":0.9},{"r":207,"f":0.7},{"r":211,"f":0.6},{"r":215,"f":0.55},{"r":220,"f":0.65},{"r":225,"f":0.55},{"r":230,"f":0.45},{"r":235,"f":0.45},{"r":240,"f":0.5},{"r":245,"f":0.65},{"r":249,"f":0.75},{"r":252,"f":1.1},{"r":255,"f":0.8},{"r":259,"f":0.6},{"r":262,"f":1.2},{"r":264,"f":1.65},{"r":267,"f":1.1},{"r":270,"f":0.85},{"r":275,"f":0.7},{"r":280,"f":0.6},{"r":285,"f":0.75},{"r":289,"f":1.0},{"r":293,"f":1.35},{"r":296,"f":1.05},{"r":301,"f":0.8},{"r":305,"f":0.9},{"r":309,"f":1.0},{"r":313,"f":1.15},{"r":316,"f":1.3},{"r":319,"f":1.0},{"r":322,"f":0.9},{"r":327,"f":1.0},{"r":331,"f":1.4},{"r":335,"f":2.3},{"r":338,"f":1.5},{"r":341,"f":1.0},{"r":345,"f":1.2},{"r":349,"f":1.5},{"r":352,"f":1.6},{"r":354,"f":1.8},{"r":357,"f":1.7},{"r":362,"f":2.35},{"r":365,"f":1.5},{"r":368,"f":1.2},{"r":370,"f":1.1},{"r":373,"f":1.5},{"r":375,"f":1.95},{"r":378,"f":1.0},{"r":380,"f":0.7},{"r":385,"f":0.55},{"r":390,"f":0.5},{"r":396,"f":0.45},{"r":401,"f":0.5},{"r":406,"f":0.6},{"r":411,"f":0.7},{"r":417,"f":0.85},{"r":421,"f":1.0},{"r":424,"f":1.15},{"r":427,"f":1.3},{"r":431,"f":1.1},{"r":436,"f":1.0},{"r":440,"f":1.15},{"r":443,"f":1.25},{"r":447,"f":1.0},{"r":451,"f":0.8},{"r":454,"f":0.7},{"r":459,"f":0.6},{"r":464,"f":0.55},{"r":469,"f":0.65},{"r":474,"f":0.8},{"r":478,"f":0.9},{"r":482,"f":1.0},{"r":486,"f":0.8},{"r":491,"f":0.65},{"r":496,"f":0.55},{"r":501,"f":0.55},{"r":506,"f":0.6},{"r":511,"f":0.75},{"r":514,"f":0.9},{"r":517,"f":1.15},{"r":520,"f":0.85},{"r":524,"f":0.7},{"r":528,"f":0.8},{"r":533,"f":0.95},{"r":536,"f":1.1},{"r":538,"f":1.3},{"r":541,"f":0.9},{"r":545,"f":0.65},{"r":550,"f":0.6},{"r":555,"f":0.5},{"r":560,"f":0.55},{"r":565,"f":0.6},{"r":569,"f":0.8},{"r":572,"f":1.5},{"r":574,"f":2.5},{"r":577,"f":1.2},{"r":580,"f":0.45},{"r":585,"f":0.45},{"r":590,"f":0.5},{"r":595,"f":0.6},{"r":600,"f":0.75},{"r":604,"f":0.85},{"r":606,"f":1.1},{"r":609,"f":0.8},{"r":614,"f":0.55},{"r":619,"f":0.5},{"r":624,"f":0.55},{"r":630,"f":0.6},{"r":635,"f":0.7},{"r":640,"f":0.8},{"r":644,"f":0.85},{"r":647,"f":0.8},{"r":650,"f":0.95},{"r":654,"f":0.75},{"r":658,"f":0.55},{"r":663,"f":0.6},{"r":668,"f":0.7},{"r":671,"f":0.85},{"r":674,"f":0.95},{"r":678,"f":0.7},{"r":684,"f":0.5},{"r":689,"f":0.55},{"r":694,"f":0.6},{"r":699,"f":0.6},{"r":704,"f":0.65},{"r":709,"f":0.8},{"r":713,"f":0.75},{"r":719,"f":0.6},{"r":724,"f":0.7},{"r":729,"f":0.8},{"r":734,"f":0.85},{"r":738,"f":0.9},{"r":742,"f":1.0},{"r":745,"f":1.1},{"r":747,"f":1.2},{"r":751,"f":1.0},{"r":755,"f":0.9},{"r":758,"f":1.3},{"r":761,"f":2.0},{"r":764,"f":1.5},{"r":769,"f":1.0},{"r":774,"f":0.85},{"r":778,"f":0.9},{"r":782,"f":1.05},{"r":786,"f":1.3},{"r":788,"f":1.6},{"r":790,"f":1.95},{"r":793,"f":1.4},{"r":797,"f":0.95},{"r":801,"f":1.0},{"r":806,"f":1.1},{"r":810,"f":1.3},{"r":815,"f":1.2},{"r":818,"f":1.1},{"r":821,"f":1.1},{"r":825,"f":1.3},{"r":829,"f":1.8},{"r":833,"f":2.5},{"r":835,"f":3.0},{"r":837,"f":3.5},{"r":840,"f":3.2},{"r":842,"f":1.5},{"r":844,"f":0.85},{"r":846,"f":4.2}]
},
"columns":2,
"bounds":"flush",
"spacing":{"row":44,"column":70},
"concat":[
 {"width":291,"height":133,"data":{"name":"A"},
  "title":{"text":"(a) Remdesivir (RDV)","orient":"bottom","anchor":"start","frame":"group","dx":315,"offset":-3,"font":"Liberation Serif","fontSize":16,"fontWeight":"normal","color":"#111111"},
  "encoding":{"x":{"field":"t","type":"quantitative","scale":{"domain":[-4.7,100],"nice":false,"zero":false},"axis":{"values":[0,20,40,60,80,100],"title":"Time (ns)","labelFont":"Liberation Serif","labelFontWeight":"bold","labelFontSize":10,"labelColor":"#111111","titleFont":"Liberation Serif","titleFontWeight":"bold","titleFontSize":10.5,"titleColor":"#111111","tickColor":"#999999","tickSize":3,"labelPadding":0,"titlePadding":1,"domain":false}}},
  "layer":[
   {"mark":{"type":"line","color":"#52809e","strokeWidth":1.5,"clip":true},
    "encoding":{"y":{"field":"p","type":"quantitative","scale":{"domain":[0.04,2.39],"nice":false,"zero":false},"axis":{"orient":"left","values":[0.25,0.5,0.75,1,1.25,1.5,1.75,2,2.25],"format":".2f","title":"Protein RMSD (Å)","labelFont":"Liberation Serif","labelFontWeight":"bold","labelFontSize":9,"labelColor":"#3b8db3","titleFont":"Liberation Serif","titleFontWeight":"bold","titleFontSize":10,"titleColor":"#3b8db3","tickColor":"#999999","tickSize":3,"labelPadding":2,"titlePadding":4,"domain":false}}}},
   {"mark":{"type":"line","color":"#b5305a","strokeWidth":1.5,"clip":true},
    "encoding":{"y":{"field":"l","type":"quantitative","scale":{"domain":[0.29,10.98],"nice":false,"zero":false},"axis":{"orient":"right","values":[1.5,3,4.5,6,7.5,9,10.5],"format":".1f","title":"Ligand RMSD (Å)","titleAngle":270,"titleBaseline":"top","labelFont":"Liberation Serif","labelFontWeight":"bold","labelFontSize":8,"labelColor":"#d0141e","titleFont":"Liberation Serif","titleFontWeight":"bold","titleFontSize":10,"titleColor":"#d0141e","tickColor":"#999999","tickSize":3,"labelPadding":2,"titlePadding":4,"domain":false}}}}
  ],
  "resolve":{"scale":{"y":"independent"}}},
 {"width":280,"height":139,"view":{"stroke":null},"data":{"name":"RA"},
  "layer":[
   {"mark":{"type":"line","color":"#41698c","strokeWidth":1.2,"clip":true},
    "encoding":{"x":{"field":"r","type":"quantitative","scale":{"domain":[-44.37,843],"nice":false,"zero":false},"axis":{"values":[0,100,200,300,400,500,600,700,800],"labelOverlap":false,"title":"Residue Index","titleX":147,"labelFont":"DejaVu Sans","labelFontSize":5.5,"labelColor":"#aaaaaa","titleFont":"DejaVu Sans","titleFontWeight":"normal","titleFontSize":10,"titleColor":"#999999","tickColor":"#cccccc","tickSize":3,"labelPadding":2,"titlePadding":1,"domain":false}},
     "y":{"field":"f","type":"quantitative","scale":{"domain":[0.03,5.043],"nice":false,"zero":false},"axis":{"offset":-14,"values":[0.5,1,1.5,2,2.5,3,3.5,4],"labelOverlap":false,"format":".1f","title":"RMSF (Å)","titleY":78,"labelFont":"DejaVu Sans","labelFontSize":5.5,"labelColor":"#aaaaaa","titleFont":"DejaVu Sans","titleFontWeight":"normal","titleFontSize":9.5,"titleColor":"#999999","tickColor":"#cccccc","tickSize":3,"labelPadding":1,"titlePadding":3,"domain":false}}}},
   {"mark":{"type":"rule","color":"#cccccc","strokeWidth":1},"encoding":{"x":{"datum":0},"x2":{"datum":843},"y":{"datum":4.43}}},
   {"mark":{"type":"rule","color":"#cccccc","strokeWidth":1},"encoding":{"x":{"datum":0},"x2":{"datum":843},"y":{"datum":0.03}}},
   {"mark":{"type":"rule","color":"#cccccc","strokeWidth":1},"encoding":{"x":{"datum":0},"y":{"datum":0.03},"y2":{"datum":4.43}}},
   {"mark":{"type":"rule","color":"#cccccc","strokeWidth":1},"encoding":{"x":{"datum":843},"y":{"datum":0.03},"y2":{"datum":4.43}}}
  ]},
 {"width":306,"height":143,"data":{"name":"B"},
  "title":{"text":"(b) Remdesivir monophosphate (RMP)","orient":"bottom","anchor":"start","frame":"group","dx":209,"offset":1,"font":"Liberation Serif","fontSize":16,"fontWeight":"normal","color":"#111111"},
  "encoding":{"x":{"field":"t","type":"quantitative","scale":{"domain":[-3,100],"nice":false,"zero":false},"axis":{"values":[0,20,40,60,80,100],"title":"Time (ns)","labelFont":"Liberation Serif","labelFontWeight":"bold","labelFontSize":10,"labelColor":"#111111","titleFont":"Liberation Serif","titleFontWeight":"bold","titleFontSize":11,"titleColor":"#111111","tickColor":"#999999","tickSize":3,"labelPadding":0,"titlePadding":2,"domain":false}}},
  "layer":[
   {"mark":{"type":"line","color":"#52809e","strokeWidth":1.5,"clip":true},
    "encoding":{"y":{"field":"p","type":"quantitative","scale":{"domain":[0.01,2.47],"nice":false,"zero":false},"axis":{"orient":"left","values":[0.25,0.5,0.75,1,1.25,1.5,1.75,2,2.25],"format":".2f","title":"Protein RMSD (Å)","labelFont":"Liberation Serif","labelFontWeight":"bold","labelFontSize":10,"labelColor":"#3b8db3","titleFont":"Liberation Serif","titleFontWeight":"bold","titleFontSize":11.5,"titleColor":"#3b8db3","tickColor":"#999999","tickSize":3,"labelPadding":2,"titlePadding":4,"domain":false}}}},
   {"mark":{"type":"line","color":"#b5305a","strokeWidth":1.5,"clip":true},
    "encoding":{"y":{"field":"l","type":"quantitative","scale":{"domain":[0.14,10.34],"nice":false,"zero":false},"axis":{"orient":"right","values":[1.5,3,4.5,6,7.5,9],"format":".1f","title":"Ligand RMSD (Å)","titleAngle":270,"titleBaseline":"top","labelFont":"Liberation Serif","labelFontWeight":"bold","labelFontSize":9.5,"labelColor":"#d0141e","titleFont":"Liberation Serif","titleFontWeight":"bold","titleFontSize":11.5,"titleColor":"#d0141e","tickColor":"#999999","tickSize":3,"labelPadding":2,"titlePadding":4,"domain":false}}}}
  ],
  "resolve":{"scale":{"y":"independent"}}},
 {"width":281,"height":151,"view":{"stroke":null},"data":{"name":"RB"},
  "layer":[
   {"mark":{"type":"line","color":"#41698c","strokeWidth":1.2,"clip":true},
    "encoding":{"x":{"field":"r","type":"quantitative","scale":{"domain":[0,836],"nice":false,"zero":false},"axis":{"offset":-12,"values":[0,100,200,300,400,500,600,700,800],"labelOverlap":false,"title":null,"labelFont":"DejaVu Sans","labelFontSize":5.5,"labelColor":"#aaaaaa","tickColor":"#cccccc","tickSize":3,"labelPadding":2,"domain":false}},
     "y":{"field":"f","type":"quantitative","scale":{"domain":[-0.392,4.789],"nice":false,"zero":false},"axis":{"values":[0.5,1,1.5,2,2.5,3,3.5,4],"labelOverlap":false,"format":".1f","title":"RMSF (Å)","titleY":74,"labelFont":"DejaVu Sans","labelFontSize":5.5,"labelColor":"#aaaaaa","titleFont":"DejaVu Sans","titleFontWeight":"normal","titleFontSize":9.5,"titleColor":"#999999","tickColor":"#cccccc","tickSize":3,"labelPadding":1,"titlePadding":3,"domain":false}}}},
   {"mark":{"type":"rule","color":"#cccccc","strokeWidth":1},"encoding":{"x":{"datum":0},"x2":{"datum":836},"y":{"datum":4.48}}},
   {"mark":{"type":"rule","color":"#cccccc","strokeWidth":1},"encoding":{"x":{"datum":0},"x2":{"datum":836},"y":{"datum":0.02}}},
   {"mark":{"type":"rule","color":"#cccccc","strokeWidth":1},"encoding":{"x":{"datum":0},"y":{"datum":0.02},"y2":{"datum":4.48}}},
   {"mark":{"type":"rule","color":"#cccccc","strokeWidth":1},"encoding":{"x":{"datum":836},"y":{"datum":0.02},"y2":{"datum":4.48}}}
  ]},
 {"width":329,"height":150,"data":{"name":"C"},
  "title":{"text":"(c) dPdZ","orient":"bottom","anchor":"start","frame":"group","dx":357,"offset":-20,"font":"Liberation Serif","fontSize":16,"fontWeight":"normal","color":"#111111"},
  "encoding":{"x":{"field":"t","type":"quantitative","scale":{"domain":[-6.8,100],"nice":false,"zero":false},"axis":{"values":[0,20,40,60,80,100],"title":"Time (ns)","labelFont":"Liberation Serif","labelFontWeight":"bold","labelFontSize":10,"labelColor":"#111111","titleFont":"Liberation Serif","titleFontWeight":"bold","titleFontSize":11.5,"titleColor":"#111111","tickColor":"#999999","tickSize":3,"labelPadding":0,"titlePadding":1,"domain":false}}},
  "layer":[
   {"mark":{"type":"line","color":"#52809e","strokeWidth":1.5,"clip":true},
    "encoding":{"y":{"field":"p","type":"quantitative","scale":{"domain":[0.03,2.39],"nice":false,"zero":false},"axis":{"orient":"left","values":[0.25,0.5,0.75,1,1.25,1.5,1.75,2,2.25],"format":".2f","title":"Protein RMSD (Å)","labelFont":"Liberation Serif","labelFontWeight":"bold","labelFontSize":10,"labelColor":"#3b8db3","titleFont":"Liberation Serif","titleFontWeight":"bold","titleFontSize":11,"titleColor":"#3b8db3","tickColor":"#999999","tickSize":3,"labelPadding":2,"titlePadding":4,"domain":false}}}},
   {"mark":{"type":"line","color":"#b5305a","strokeWidth":1.5,"clip":true},
    "encoding":{"y":{"field":"l","type":"quantitative","scale":{"domain":[0.11,4.59],"nice":false,"zero":false},"axis":{"orient":"right","values":[0.5,1,1.5,2,2.5,3,3.5,4,4.5],"format":".1f","title":"Ligand RMSD (Å)","titleAngle":270,"titleBaseline":"top","labelFont":"Liberation Serif","labelFontWeight":"bold","labelFontSize":10,"labelColor":"#d0141e","titleFont":"Liberation Serif","titleFontWeight":"bold","titleFontSize":12,"titleColor":"#d0141e","tickColor":"#999999","tickSize":3,"labelPadding":2,"titlePadding":2,"domain":false}}}}
  ],
  "resolve":{"scale":{"y":"independent"}}},
 {"width":291,"height":130,"view":{"stroke":null},"data":{"name":"RC"},
  "layer":[
   {"mark":{"type":"line","color":"#41698c","strokeWidth":1.2,"clip":true},
    "encoding":{"x":{"field":"r","type":"quantitative","scale":{"domain":[-69.27,847],"nice":false,"zero":false},"axis":{"values":[0,100,200,300,400,500,600,700,800],"labelOverlap":false,"title":null,"labelFont":"DejaVu Sans","labelFontSize":5,"labelColor":"#aaaaaa","tickColor":"#cccccc","tickSize":3,"labelPadding":2,"domain":false}},
     "y":{"field":"f","type":"quantitative","scale":{"domain":[0.0,4.333],"nice":false,"zero":false},"axis":{"offset":-22,"values":[0.5,1,1.5,2,2.5,3,3.5,4],"labelOverlap":false,"format":".1f","title":"RMSF (Å)","titleY":67,"labelFont":"DejaVu Sans","labelFontSize":5,"labelColor":"#aaaaaa","titleFont":"DejaVu Sans","titleFontWeight":"normal","titleFontSize":8.5,"titleColor":"#999999","tickColor":"#cccccc","tickSize":3,"labelPadding":1,"titlePadding":3,"domain":false}}}},
   {"mark":{"type":"rule","color":"#cccccc","strokeWidth":1},"encoding":{"x":{"datum":0},"x2":{"datum":847},"y":{"datum":4.2}}},
   {"mark":{"type":"rule","color":"#cccccc","strokeWidth":1},"encoding":{"x":{"datum":0},"x2":{"datum":847},"y":{"datum":0.0}}},
   {"mark":{"type":"rule","color":"#cccccc","strokeWidth":1},"encoding":{"x":{"datum":0},"y":{"datum":0.0},"y2":{"datum":4.2}}},
   {"mark":{"type":"rule","color":"#cccccc","strokeWidth":1},"encoding":{"x":{"datum":847},"y":{"datum":0.0},"y2":{"datum":4.2}}}
  ]}
]
}
